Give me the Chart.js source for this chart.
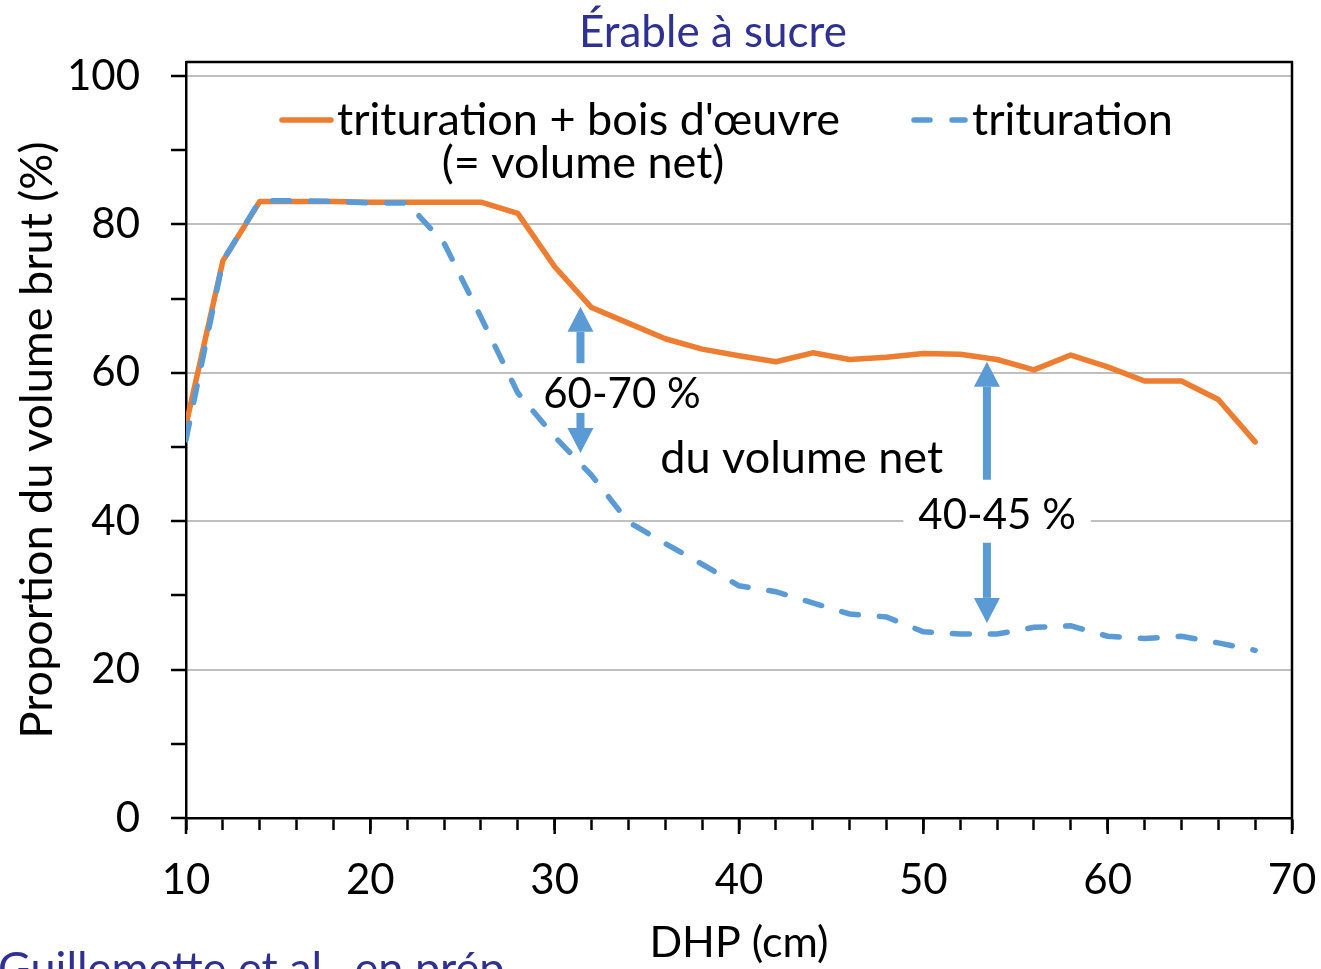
<!DOCTYPE html>
<html lang="fr">
<head>
<meta charset="utf-8">
<title>Érable à sucre</title>
<script src="https://cdn.jsdelivr.net/npm/chart.js@4.4.1/dist/chart.umd.min.js"></script>
<style>
  html, body { margin: 0; padding: 0; background: #fff; }
  #wrap { width: 1321px; height: 969px; }
</style>
</head>
<body>
<div id="wrap"><canvas id="erableChart" width="1321" height="969"></canvas></div>
<script>
// DHP classes (cm)
const dhp = [10, 12, 14, 16, 18, 20, 22, 24, 26, 28, 30, 32, 34, 36, 38, 40, 42, 44, 46, 48, 50, 52, 54, 56, 58, 60, 62, 64, 66, 68];
// trituration + bois d'oeuvre (= volume net), % du volume brut
const netVolume = [53, 75.1, 83.1, 83.1, 83.1, 83, 83, 83, 83, 81.5, 74.3, 68.8, 66.7, 64.6, 63.2, 62.3, 61.5, 62.7, 61.8, 62.1, 62.6, 62.5, 61.8, 60.4, 62.4, 60.8, 58.9, 58.9, 56.4, 50.7];
// trituration seulement
const pulpVolume = [51, 75.1, 83.2, 83.2, 83.1, 82.9, 82.9, 77.5, 67.5, 57.3, 51.4, 46.2, 39.9, 37, 34.2, 31.3, 30.5, 29, 27.5, 27.1, 25.1, 24.8, 24.8, 25.7, 25.9, 24.5, 24.2, 24.5, 23.6, 22.6];

const yTicks = [0, 5, 10, 15, 20, 25, 30, 35, 40, 45, 50, 55, 60, 65, 70, 75, 80, 85, 90, 95, 100];
const xLabelStep = 10;
const yLabelStep = 20;

const ORANGE = '#ED7D31';
const BLUE = '#5B9BD5';
const NAVY = '#2E3192';
const FONT = 'Lato';

// arrows: [x (cm), tail (%), tip (%)]
const arrows = [
    [31.4, 61.3, 68.9],
    [31.4, 54.6, 49.2],
    [53.45, 45.6, 61.5],
    [53.45, 37.1, 26.3]
];

// text notes: [text, x (cm), y (%), font size, white box behind]
const notes = [
    ['60-70 %', 33.65, 57.1, 42, true],
    ['du volume net', 43.4, 48.5, 45, false],
    ['40-45 %', 54.0, 40.8, 42, true]
];

function drawArrow(ctx, x, yTail, yTip) {
    const dir = yTip < yTail ? -1 : 1;
    const head = 25;
    const base = yTip - dir * head;
    ctx.save();
    ctx.strokeStyle = BLUE;
    ctx.fillStyle = BLUE;
    ctx.lineWidth = 8;
    ctx.beginPath();
    ctx.moveTo(x, yTail);
    ctx.lineTo(x, base);
    ctx.stroke();
    ctx.beginPath();
    ctx.moveTo(x - 13, base);
    ctx.lineTo(x + 13, base);
    ctx.lineTo(x, yTip);
    ctx.closePath();
    ctx.fill();
    ctx.restore();
}

const extrasPlugin = {
    id: 'extras',
    beforeDatasetsDraw(chart) {
        const ctx = chart.ctx;
        const xs = chart.scales.x, ys = chart.scales.y;
        ctx.save();
        ctx.fillStyle = '#fff';
        notes.forEach(n => {
            if (!n[4]) return;
            ctx.font = n[3] + 'px ' + FONT;
            const w = ctx.measureText(n[0]).width;
            const cx = xs.getPixelForValue(n[1]);
            const cy = ys.getPixelForValue(n[2]);
            ctx.fillRect(cx - w / 2 - 15, cy - 20, w + 30, 40);
        });
        ctx.restore();
    },
    afterDatasetsDraw(chart) {
        const ctx = chart.ctx;
        const xs = chart.scales.x, ys = chart.scales.y;
        const area = chart.chartArea;

        // plot frame (top + right)
        ctx.save();
        ctx.strokeStyle = '#000';
        ctx.lineWidth = 2.5;
        ctx.beginPath();
        ctx.moveTo(area.left, area.top);
        ctx.lineTo(area.right, area.top);
        ctx.lineTo(area.right, area.bottom);
        ctx.stroke();

        // longer major ticks on x
        for (let v = xs.min; v <= xs.max; v += xLabelStep) {
            const px = xs.getPixelForValue(v);
            ctx.beginPath();
            ctx.moveTo(px, area.bottom);
            ctx.lineTo(px, area.bottom + 16);
            ctx.stroke();
        }
        ctx.restore();

        arrows.forEach(a => {
            drawArrow(ctx, xs.getPixelForValue(a[0]), ys.getPixelForValue(a[1]), ys.getPixelForValue(a[2]));
        });

        ctx.save();
        ctx.fillStyle = '#000';
        ctx.textAlign = 'center';
        ctx.textBaseline = 'middle';
        notes.forEach(n => {
            ctx.font = n[3] + 'px ' + FONT;
            ctx.fillText(n[0], xs.getPixelForValue(n[1]), ys.getPixelForValue(n[2]));
        });

        // legend
        ctx.font = '45px ' + FONT;
        ctx.lineWidth = 5.5;
        ctx.lineCap = 'round';
        ctx.strokeStyle = ORANGE;
        ctx.beginPath();
        ctx.moveTo(282, 120);
        ctx.lineTo(331, 120);
        ctx.stroke();
        ctx.strokeStyle = BLUE;
        ctx.setLineDash([16, 22]);
        ctx.beginPath();
        ctx.moveTo(914, 120);
        ctx.lineTo(965, 120);
        ctx.stroke();
        ctx.setLineDash([]);
        ctx.textAlign = 'left';
        ctx.fillText("trituration + bois d'œuvre", 337, 120);
        ctx.fillText('trituration', 972, 120);
        ctx.textAlign = 'center';
        ctx.fillText('(= volume net)', 583, 163);

        // title
        ctx.fillStyle = NAVY;
        ctx.font = '44px ' + FONT;
        ctx.fillText('Érable à sucre', 713, 33);

        // source, cut by the bottom edge
        ctx.font = '45px ' + FONT;
        ctx.textAlign = 'left';
        ctx.textBaseline = 'alphabetic';
        ctx.fillText('Guillemette et al., en prép.', -2, 984);
        ctx.restore();
    }
};

const ctx = document.getElementById('erableChart').getContext('2d');

new Chart(ctx, {
    type: 'line',
    data: {
        datasets: [{
            label: 'trituration',
            data: dhp.map((x, i) => ({ x: x, y: pulpVolume[i] })),
            borderColor: BLUE,
            borderWidth: 5.5,
            borderDash: [17, 21],
            borderCapStyle: 'round',
            pointRadius: 0,
            tension: 0,
            order: 0
        }, {
            label: "trituration + bois d'œuvre (= volume net)",
            data: dhp.map((x, i) => ({ x: x, y: netVolume[i] })),
            borderColor: ORANGE,
            borderWidth: 5.5,
            borderCapStyle: 'round',
            borderJoinStyle: 'round',
            pointRadius: 0,
            tension: 0,
            order: 1
        }]
    },
    options: {
        responsive: false,
        animation: false,
        layout: { padding: { left: 0, right: 29, top: 62, bottom: 0 } },
        plugins: {
            legend: { display: false },
            tooltip: { enabled: false },
            title: { display: false }
        },
        scales: {
            x: {
                type: 'linear',
                min: 10,
                max: 70,
                afterFit: s => { s.height = 151; s.paddingLeft = 0; s.paddingRight = 0; },
                ticks: {
                    stepSize: 2,
                    autoSkip: false,
                    maxRotation: 0,
                    padding: 25,
                    color: '#000',
                    font: { family: FONT, size: 42 },
                    callback: v => (v % xLabelStep === 0 ? v : '')
                },
                grid: {
                    drawOnChartArea: false,
                    tickLength: 12,
                    tickWidth: 2.5,
                    tickColor: '#000'
                },
                border: { color: '#000', width: 2.5 },
                title: {
                    display: true,
                    text: 'DHP (cm)',
                    color: '#000',
                    font: { family: FONT, size: 43 },
                    padding: { top: 0, bottom: 0 }
                }
            },
            y: {
                min: 0,
                max: 101.9,
                afterFit: s => { s.width = 186; s.paddingTop = 0; s.paddingBottom = 0; },
                afterBuildTicks: s => { s.ticks = yTicks.map(v => ({ value: v })); },
                ticks: {
                    padding: 31,
                    color: '#000',
                    font: { family: FONT, size: 42 },
                    callback: v => (v % yLabelStep === 0 ? v : '')
                },
                grid: {
                    color: c => (c.tick && c.tick.value % yLabelStep === 0 ? '#BFBFBF' : 'rgba(0,0,0,0)'),
                    lineWidth: 2,
                    tickLength: 15,
                    tickWidth: 2.5,
                    tickColor: '#000'
                },
                border: { color: '#000', width: 2.5 },
                title: {
                    display: true,
                    text: 'Proportion du volume brut (%)',
                    color: '#000',
                    font: { family: FONT, size: 45 },
                    padding: { top: 10, bottom: 0 }
                }
            }
        }
    },
    plugins: [extrasPlugin]
});
</script>
</body>
</html>
